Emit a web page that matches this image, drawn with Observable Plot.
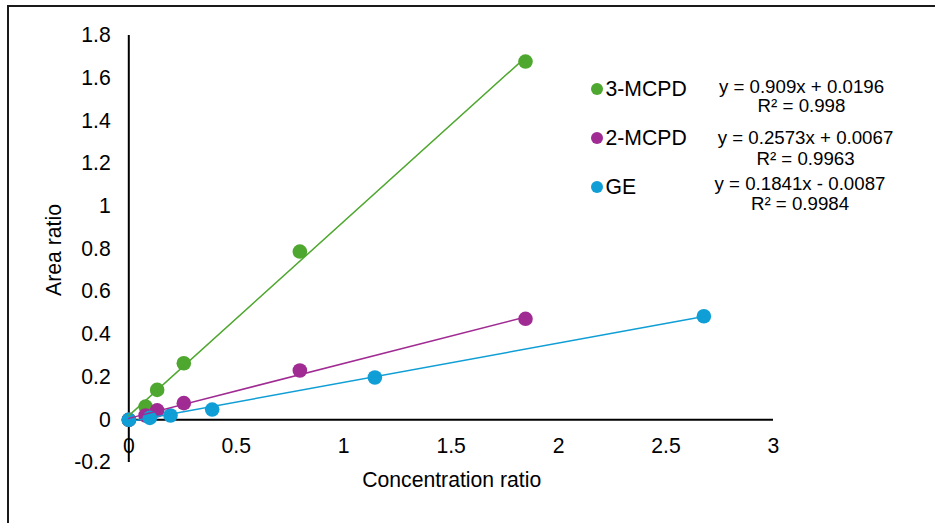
<!DOCTYPE html>
<html>
<head>
<meta charset="utf-8">
<script src="https://cdn.jsdelivr.net/npm/d3@7"></script>
<script src="https://cdn.jsdelivr.net/npm/@observablehq/plot@0.6"></script>
<style>
  html, body { margin: 0; padding: 0; background: #fff; }
  #wrap { position: relative; width: 935px; height: 523px; overflow: hidden; font-family: "Liberation Sans", Arial, sans-serif; color: #000; }
  #frame { position: absolute; left: 7px; top: 5px; width: 940px; height: 530px; border-left: 2px solid #1a1a1a; border-top: 2px solid #1a1a1a; box-sizing: border-box; }
  .t { position: absolute; white-space: nowrap; line-height: normal; transform: translate(-50%, -50%); }
  .lab { font-size: 21.2px; }
  .eq { font-size: 18.7px; }
  .lg { position: absolute; white-space: nowrap; font-size: 21.2px; line-height: normal; transform: translateY(-50%); }
  .dotk { position: absolute; width: 12px; height: 12px; border-radius: 50%; transform: translate(-50%, -50%); }
  svg { position: absolute; left: 0; top: 0; }
</style>
</head>
<body>
<div id="wrap"><div id="frame"></div></div>
<script>
// Data
const seriesNames = ["3-MCPD", "2-MCPD", "GE"];
const seriesColors = ["#4EA72E", "#A02B93", "#0F9ED5"];
const xMCPD = [0, 0.078, 0.132, 0.256, 0.796, 1.846];
const y3MCPD = [0, 0.062, 0.14, 0.265, 0.788, 1.678];
const y2MCPD = [0, 0.02, 0.044, 0.078, 0.231, 0.473];
const xGE = [0, 0.098, 0.194, 0.388, 1.145, 2.676];
const yGE = [0, 0.009, 0.02, 0.048, 0.198, 0.485];
const slopes = [0.909, 0.2573, 0.1841];
const intercepts = [0.0196, 0.0067, -0.0087];
const equations = ["y = 0.909x + 0.0196", "y = 0.2573x + 0.0067", "y = 0.1841x - 0.0087"];
const r2Labels = ["R² = 0.998", "R² = 0.9963", "R² = 0.9984"];
const xTicks = [0, 0.5, 1, 1.5, 2, 2.5, 3];
const yTicks = [-0.2, 0, 0.2, 0.4, 0.6, 0.8, 1, 1.2, 1.4, 1.6, 1.8];

const xs = [xMCPD, xMCPD, xGE];
const ys = [y3MCPD, y2MCPD, yGE];

const points = [];
seriesNames.forEach((s, i) => xs[i].forEach((x, j) => points.push({series: s, x, y: ys[i][j]})));

const trend = [];
seriesNames.forEach((s, i) => {
  const [x0, x1] = d3.extent(xs[i]);
  trend.push({series: s, x: x0, y: slopes[i] * x0 + intercepts[i]});
  trend.push({series: s, x: x1, y: slopes[i] * x1 + intercepts[i]});
});

const fmt = d => String(+d.toFixed(1));

const chart = Plot.plot({
  width: 935,
  height: 523,
  marginLeft: 128.3,
  marginRight: 162,
  marginTop: 35,
  marginBottom: 61,
  style: {fontFamily: "Liberation Sans, Arial, sans-serif", fontSize: "21.2px", color: "#000", background: "transparent", overflow: "visible"},
  x: {domain: [0, 3]},
  y: {domain: [-0.2, 1.8]},
  color: {domain: seriesNames, range: seriesColors},
  marks: [
    Plot.axisY(yTicks, {tickSize: 0, tickPadding: 18, tickFormat: fmt, label: null, fontSize: 21.2}),
    Plot.axisX(xTicks, {tickSize: 0, tickPadding: 0, dy: -24.5, tickFormat: fmt, label: null, fontSize: 21.2}),
    Plot.ruleY([0], {stroke: "#000", strokeWidth: 2}),
    Plot.ruleX([0], {stroke: "#000", strokeWidth: 2}),
    Plot.dot(points, {x: "x", y: "y", fill: "series", r: 7.3, stroke: "none"}),
    Plot.line(trend, {x: "x", y: "y", stroke: "series", z: "series", strokeWidth: 1.5})
  ]
});
const wrap = document.getElementById("wrap");
wrap.appendChild(chart);

// Axis titles
function addText(cls, txt, x, y, rot) {
  const d = document.createElement("div");
  d.className = "t " + cls;
  d.textContent = txt;
  d.style.left = x + "px";
  d.style.top = y + "px";
  if (rot) d.style.transform = "translate(-50%, -50%) rotate(-90deg)";
  wrap.appendChild(d);
}
addText("lab", "Concentration ratio", 451.7, 479.7);
addText("lab", "Area ratio", 54, 250, true);

// Legend
const legendY = [89.3, 137.7, 187.3];
seriesNames.forEach((s, i) => {
  const k = document.createElement("div");
  k.className = "dotk";
  k.style.left = "596.7px";
  k.style.top = legendY[i] + "px";
  k.style.background = seriesColors[i];
  wrap.appendChild(k);
  const l = document.createElement("div");
  l.className = "lg";
  l.textContent = s;
  l.style.left = "605.5px";
  l.style.top = legendY[i] + "px";
  wrap.appendChild(l);
});

// Trendline equations
const eqX = [801.5, 805.5, 800];
const eqY1 = [86.8, 138.3, 183.8];
const eqY2 = [105.8, 159.3, 203.8];
seriesNames.forEach((s, i) => {
  addText("eq", equations[i], eqX[i], eqY1[i]);
  addText("eq", r2Labels[i], eqX[i], eqY2[i]);
});
</script>
</body>
</html>
